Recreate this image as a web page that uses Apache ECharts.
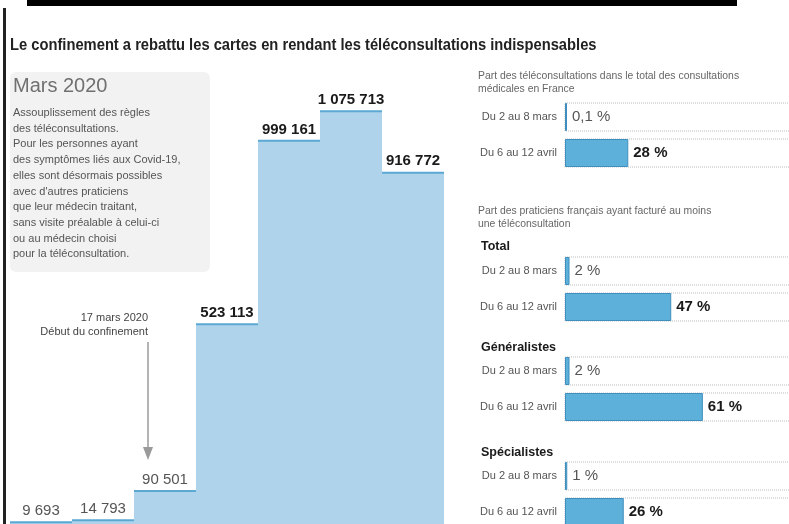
<!DOCTYPE html>
<html>
<head>
<meta charset="utf-8">
<script src="https://cdn.jsdelivr.net/npm/echarts@6/dist/echarts.min.js"></script>
<style>
  html, body { margin: 0; padding: 0; background: #fff; }
  #chart { width: 789px; height: 524px; }
</style>
</head>
<body>
<div id="chart"></div>
<script>
var weeks = ['2-8 mars', '9-15 mars', '16-22 mars', '23-29 mars', '30 mars-5 avr', '6-12 avr', '13-19 avr'];
var counts = [9693, 14793, 90501, 523113, 999161, 1075713, 916772];

var periods = ['Du 2 au 8 mars', 'Du 6 au 12 avril'];
var shareConsult = [0.1, 28];
var shareTotal = [2, 47];
var shareGeneral = [2, 61];
var shareSpecial = [1, 26];

var noteLines = [
  'Assouplissement des règles',
  'des téléconsultations.',
  'Pour les personnes ayant',
  'des symptômes liés aux Covid-19,',
  'elles sont désormais possibles',
  'avec d\'autres praticiens',
  'que leur médecin traitant,',
  'sans visite préalable à celui-ci',
  'ou au médecin choisi',
  'pour la téléconsultation.'
];

var FONT = '"Liberation Sans", Arial, sans-serif';

function fmtNum(v) {
  return String(v).replace(/\B(?=(\d{3})+(?!\d))/g, ' ');
}
function fmtPct(v) {
  return String(v).replace('.', ',') + ' %';
}

var chart = echarts.init(document.getElementById('chart'));

// four small bar panels on the right
var panelTops = [99, 253, 353, 458];
var panelData = [shareConsult, shareTotal, shareGeneral, shareSpecial];

var grids = [{ left: 10, right: 345, top: 102, bottom: -2, outerBoundsMode: 'none' }];
var xAxes = [{ type: 'category', data: weeks, gridIndex: 0, show: false, boundaryGap: true }];
var yAxes = [{ type: 'value', gridIndex: 0, min: 0, max: 1100000, show: false }];
var series = [{
  type: 'custom',
  xAxisIndex: 0,
  yAxisIndex: 0,
  data: counts.map(function (v, i) { return [i, v]; }),
  renderItem: function (params, api) {
    var i = api.value(0);
    var v = api.value(1);
    var top = api.coord([i, v]);
    var base = api.coord([i, 0]);
    var w = api.size([1, 0])[0];
    var big = v > 500000;
    return {
      type: 'group',
      children: [
        { type: 'rect', shape: { x: top[0] - w / 2, y: top[1], width: w, height: base[1] - top[1] },
          style: { fill: '#aed3ea' } },
        { type: 'line', shape: { x1: top[0] - w / 2, y1: top[1], x2: top[0] + w / 2, y2: top[1] },
          style: { stroke: '#5ba9d3', lineWidth: 2 } },
        { type: 'text', x: top[0], y: top[1] - 4,
          style: { text: fmtNum(v), align: 'center', verticalAlign: 'bottom',
            font: (big ? 'bold ' : '') + '15px ' + FONT, fill: big ? '#1a1a1a' : '#555' } }
      ]
    };
  }
}];

panelData.forEach(function (vals, k) {
  var g = k + 1;
  grids.push({ left: 565, width: 226, top: panelTops[k], height: 72, outerBoundsMode: 'none' });
  xAxes.push({ type: 'value', gridIndex: g, min: 0, max: 100, show: false });
  yAxes.push({
    type: 'category', gridIndex: g, data: periods, inverse: true,
    axisLine: { show: false }, axisTick: { show: false },
    axisLabel: { color: '#555', fontSize: 11, fontFamily: FONT, margin: 8 }
  });
  series.push({
    type: 'bar',
    xAxisIndex: g,
    yAxisIndex: g,
    barWidth: 28,
    barMinHeight: 2,
    showBackground: true,
    backgroundStyle: { color: 'rgba(0,0,0,0)', borderColor: '#bdbdbd', borderWidth: 1, borderType: 'dotted' },
    itemStyle: { color: '#5db0d9', borderColor: '#3f8fbe', borderWidth: 1 },
    data: vals.map(function (v, i) {
      return {
        value: v,
        label: i === 0
          ? { color: '#555', fontWeight: 'normal' }
          : { color: '#1a1a1a', fontWeight: 'bold' }
      };
    }),
    label: {
      show: true, position: 'right', distance: 5,
      fontSize: 15, fontFamily: FONT,
      formatter: function (p) { return fmtPct(p.value); }
    }
  });
});

var graphics = [
  { type: 'rect', shape: { x: 27, y: 0, width: 710, height: 6 }, style: { fill: '#000' } },
  { type: 'rect', shape: { x: 3, y: 8, width: 3, height: 520 }, style: { fill: '#222' } },
  { type: 'text', x: 10, y: 46, scaleX: 0.92,
    style: { text: 'Le confinement a rebattu les cartes en rendant les téléconsultations indispensables',
      font: 'bold 16px ' + FONT, fill: '#222', verticalAlign: 'middle' } },
  { type: 'rect', shape: { x: 10, y: 72, width: 200, height: 200, r: 6 }, style: { fill: '#f2f2f2' } },
  { type: 'text', x: 13, y: 86, style: { text: 'Mars 2020', font: '20px ' + FONT, fill: '#707070', verticalAlign: 'middle' } },
  { type: 'text', x: 148, y: 318, style: { text: '17 mars 2020', font: '11px ' + FONT, fill: '#444', align: 'right', verticalAlign: 'middle' } },
  { type: 'text', x: 148, y: 332, style: { text: 'Début du confinement', font: '11px ' + FONT, fill: '#444', align: 'right', verticalAlign: 'middle' } },
  { type: 'line', shape: { x1: 148, y1: 342, x2: 148, y2: 452 }, style: { stroke: '#9a9a9a', lineWidth: 1.5 } },
  { type: 'polygon', shape: { points: [[143, 447], [153, 447], [148, 460]] }, style: { fill: '#9a9a9a' } },
  { type: 'text', x: 320, y: 372, style: { text: 'Nombre de téléconsultations en France', font: 'bold 11px ' + FONT, fill: '#333', align: 'center', verticalAlign: 'middle' } },
  { type: 'text', x: 478, y: 76, style: { text: 'Part des téléconsultations dans le total des consultations', font: '10.4px ' + FONT, fill: '#666', verticalAlign: 'middle' } },
  { type: 'text', x: 478, y: 89, style: { text: 'médicales en France', font: '10.4px ' + FONT, fill: '#666', verticalAlign: 'middle' } },
  { type: 'text', x: 478, y: 211, style: { text: 'Part des praticiens français ayant facturé au moins', font: '10.4px ' + FONT, fill: '#666', verticalAlign: 'middle' } },
  { type: 'text', x: 478, y: 224, style: { text: 'une téléconsultation', font: '10.4px ' + FONT, fill: '#666', verticalAlign: 'middle' } },
  { type: 'text', x: 481, y: 247, style: { text: 'Total', font: 'bold 12.5px ' + FONT, fill: '#1a1a1a', verticalAlign: 'middle' } },
  { type: 'text', x: 481, y: 348, style: { text: 'Généralistes', font: 'bold 12.5px ' + FONT, fill: '#1a1a1a', verticalAlign: 'middle' } },
  { type: 'text', x: 481, y: 453, style: { text: 'Spécialistes', font: 'bold 12.5px ' + FONT, fill: '#1a1a1a', verticalAlign: 'middle' } }
];
noteLines.forEach(function (t, i) {
  graphics.push({ type: 'text', x: 13, y: 113 + i * 15.7,
    style: { text: t, font: '11px ' + FONT, fill: '#555', verticalAlign: 'middle' } });
});

var option = {
  animation: false,
  backgroundColor: '#fff',
  grid: grids,
  xAxis: xAxes,
  yAxis: yAxes,
  series: series,
  graphic: { elements: graphics }
};

option && chart.setOption(option);
</script>
</body>
</html>
